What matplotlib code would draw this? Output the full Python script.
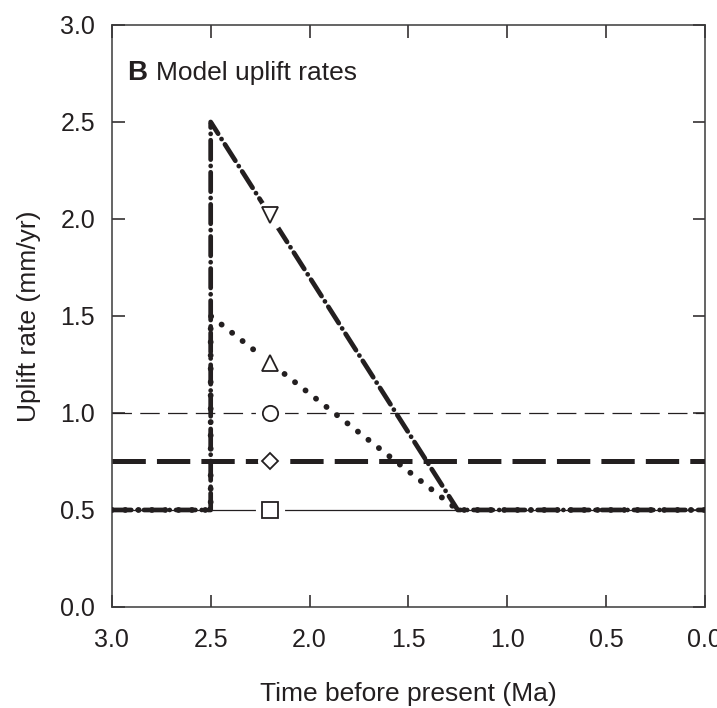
import matplotlib
matplotlib.use("Agg")
import matplotlib.pyplot as plt

plt.rcParams['font.family'] = ['Liberation Sans', 'DejaVu Sans']
plt.rcParams['lines.scale_dashes'] = False

# Model uplift histories (time in Ma, rate in mm/yr)
const_time = [3.0, 0.0]
const_low = [0.5, 0.5]
const_mid = [0.75, 0.75]
const_high = [1.0, 1.0]

pulse_time = [3.0, 2.5, 2.5, 1.25, 0.0]
pulse_small = [0.5, 0.5, 1.5, 0.5, 0.5]
pulse_large = [0.5, 0.5, 2.5, 0.5, 0.5]

# Symbol positions on each curve
marker_x = 2.2
marker_y = {'s': 0.5, 'D': 0.75, 'o': 1.0, '^': 1.26, 'v': 2.02}
marker_size = {'s': 11, 'D': 8, 'o': 11, '^': 11, 'v': 11}

fig = plt.figure(figsize=(7.17, 7.08), dpi=100)
ax = fig.add_axes([0.156, 0.1427, 0.827, 0.822])

ink = '#231f20'
ax.plot(const_time, const_low, color=ink, lw=0.9, zorder=2)
ax.plot(const_time, const_high, color=ink, lw=0.9, dashes=(14, 6), zorder=2)
ax.plot(const_time, const_mid, color=ink, lw=3.6, dashes=(24, 8), zorder=3)
ax.plot(pulse_time, pulse_small, color=ink, lw=4.2, dashes=(0.1, 9.5),
        dash_capstyle='round', zorder=3)
ax.plot(pulse_time, pulse_large, color=ink, lw=3.4, dashes=(14, 4.5, 0.1, 4.5),
        dash_capstyle='round', solid_joinstyle='round', zorder=4)

# open symbols with a white gap around them
for m, y in marker_y.items():
    ax.plot(marker_x, y, marker='o', ms=marker_size[m] + 10, mfc='white',
            mec='none', linestyle='none', zorder=5)
    ax.plot(marker_x, y, marker=m, ms=marker_size[m], mfc='white',
            mec=ink, mew=1.3, linestyle='none', zorder=6)

ax.set_xlim(3.0, 0.0)
ax.set_ylim(0.0, 3.0)
ax.set_xticks([3.0, 2.5, 2.0, 1.5, 1.0, 0.5, 0.0])
ax.set_yticks([0.0, 0.5, 1.0, 1.5, 2.0, 2.5, 3.0])
ax.xaxis.set_major_formatter(matplotlib.ticker.FormatStrFormatter('%.1f'))
ax.yaxis.set_major_formatter(matplotlib.ticker.FormatStrFormatter('%.1f'))
ax.tick_params(direction='in', length=9, width=1.1, top=True, right=True,
               labelsize=18, colors=ink)
ax.tick_params(axis='x', pad=15)
ax.tick_params(axis='y', pad=12)
for s in ax.spines.values():
    s.set_linewidth(1.1)
    s.set_color('#3a3a3a')

ax.set_xlabel('Time before present (Ma)', fontsize=19, color=ink, labelpad=22)
ax.set_ylabel('Uplift rate (mm/yr)', fontsize=19, color=ink, labelpad=14)

ax.text(0.025, 0.906, 'B', transform=ax.transAxes, fontsize=20,
        fontweight='bold', color=ink, va='baseline')
ax.text(0.075, 0.906, 'Model uplift rates', transform=ax.transAxes,
        fontsize=19, color=ink, va='baseline')

fig.savefig('out.png', dpi=100)
